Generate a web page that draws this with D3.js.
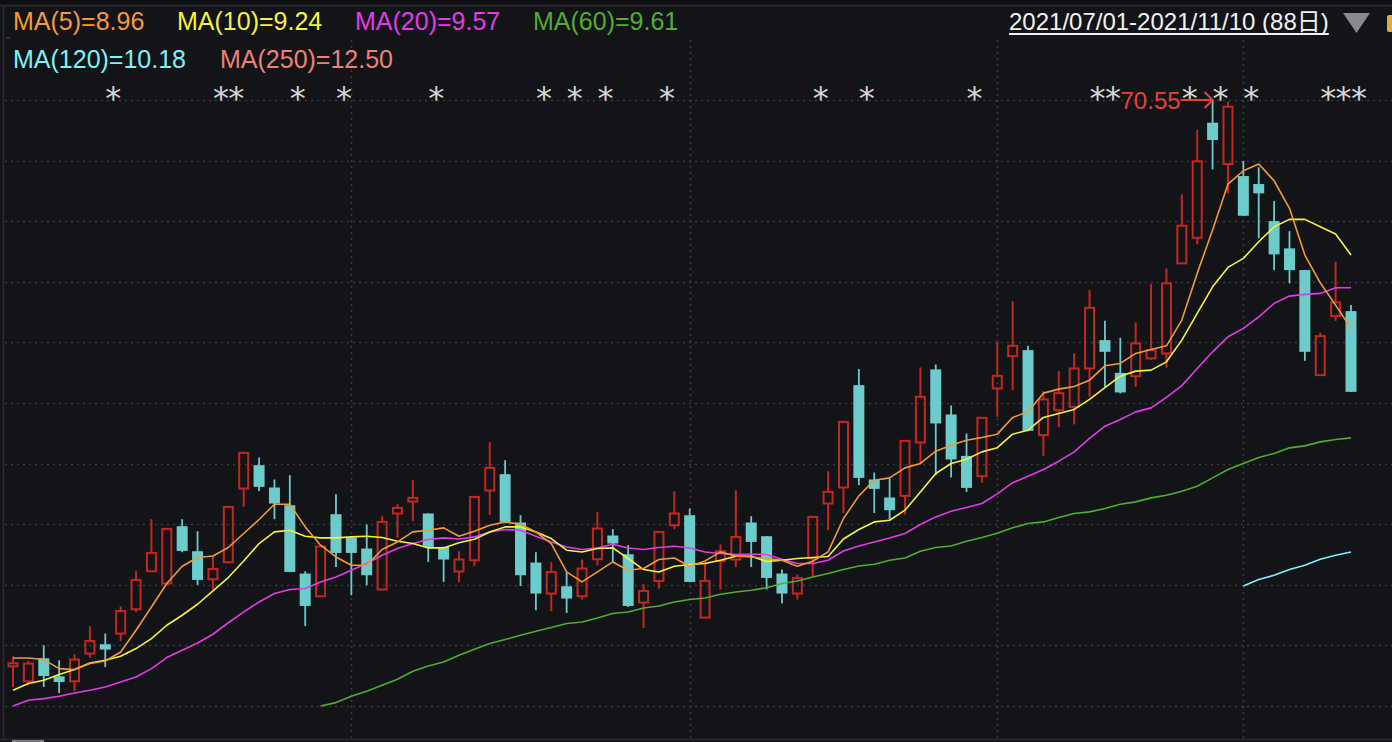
<!DOCTYPE html>
<html>
<head>
<meta charset="utf-8">
<script src="https://cdn.jsdelivr.net/npm/d3@7/dist/d3.min.js"></script>
<style>
  html, body { margin: 0; padding: 0; background: #131418; }
  svg { display: block; }
</style>
</head>
<body>
<div id="chart"></div>
<script>
// 日K数据 (2021/07/01 - 2021/11/10, 88个交易日)
const opens = [13.95,12.45,14.75,12.95,12.45,15.22,16.15,17.22,19.65,23.45,
  22.22,27.95,25.45,22.65,24.35,31.72,34.05,31.82,30.05,23.22,
  20.95,29.15,26.82,25.72,21.62,29.22,30.42,29.22,25.88,23.42,
  24.55,31.52,33.15,28.32,24.32,21.22,21.95,20.95,24.65,27.02,
  25.15,20.32,22.48,28.05,29.05,18.82,24.48,24.62,28.32,26.95,
  23.22,21.22,24.75,30.22,31.82,42.05,32.62,30.82,30.98,36.32,
  43.62,39.12,34.98,32.95,41.72,44.95,45.55,37.05,39.55,39.88,
  43.72,46.55,43.28,42.95,44.72,45.22,54.22,56.78,68.28,64.15,
  62.95,62.15,58.45,55.72,53.55,43.05,48.95,49.45];

const closes = [14.25,14.22,12.98,12.38,14.62,16.48,15.62,19.48,22.58,25.28,
  27.68,25.48,22.58,23.68,29.88,35.28,31.88,30.22,23.38,19.98,
  25.92,25.28,25.28,23.05,28.38,29.78,30.78,25.88,24.62,24.62,
  30.88,33.78,28.38,23.05,21.22,23.38,20.72,23.72,27.72,26.22,
  19.98,21.48,27.38,29.22,22.38,22.48,25.45,26.88,26.38,22.78,
  21.22,22.78,28.88,31.38,38.38,32.78,31.68,29.55,36.48,40.88,
  38.22,34.62,31.78,38.78,42.98,45.98,37.48,40.62,41.25,43.72,
  49.78,45.38,41.32,46.22,45.55,52.22,57.98,64.42,66.55,69.88,
  58.98,61.22,55.12,53.55,45.38,46.95,50.32,41.38];

const highs = [14.95,14.48,16.05,14.55,15.15,17.95,17.22,19.95,23.45,28.65,
  27.78,28.65,27.45,24.95,29.95,35.35,34.82,32.62,33.05,23.45,
  25.95,31.15,26.85,28.12,28.95,30.15,32.55,29.25,25.90,25.45,
  30.90,36.35,34.55,29.05,25.35,24.35,23.38,24.62,29.35,27.65,
  26.05,22.15,27.40,31.45,29.72,24.38,26.12,31.55,28.95,26.97,
  23.62,23.12,28.90,33.45,38.40,43.65,33.32,32.72,36.50,43.82,
  44.12,40.02,37.22,38.80,46.38,50.45,45.98,41.45,43.45,45.22,
  51.55,48.48,46.78,48.32,52.15,53.72,61.12,67.55,70.55,70.38,
  64.45,63.82,60.45,57.45,53.57,47.28,54.38,50.05];

const lows = [11.85,12.05,11.88,11.28,11.45,14.82,13.88,16.48,19.35,23.45,
  22.22,25.35,22.08,21.62,24.35,29.88,31.48,28.65,23.35,17.98,
  20.95,23.88,21.05,22.05,21.62,26.78,28.48,24.38,22.38,22.38,
  23.98,29.08,28.25,21.98,19.55,19.45,19.28,20.62,24.05,24.38,
  19.88,17.78,21.72,27.65,22.35,18.82,21.62,23.88,23.88,21.62,
  20.22,20.62,22.95,27.55,29.28,32.05,29.28,28.62,29.12,34.12,
  33.05,32.82,31.38,32.28,38.88,41.55,37.45,34.98,37.82,38.12,
  40.88,41.88,41.22,41.88,44.55,43.82,54.20,56.12,63.62,61.22,
  58.95,56.72,53.55,52.22,44.48,43.03,48.48,41.36];

// 均线
const ma5 = [14.78,14.78,14.62,13.72,13.62,14.22,14.48,15.38,17.55,19.88,
  22.22,23.95,24.82,24.98,25.82,27.22,28.62,30.15,30.15,27.88,
  26.05,24.88,24.05,24.05,25.62,26.38,27.38,27.55,27.78,26.95,
  27.45,28.05,28.38,28.15,27.38,26.22,23.38,22.38,23.38,24.38,
  23.55,23.72,24.62,24.78,23.95,24.48,25.38,24.98,24.88,24.72,
  24.55,23.95,24.45,25.38,28.72,30.98,32.55,32.78,33.78,34.22,
  35.45,36.05,36.55,36.82,37.15,38.82,39.38,41.25,41.65,41.92,
  42.55,43.98,44.22,45.22,45.62,45.98,48.55,53.22,57.55,62.15,
  63.48,64.15,62.48,59.72,55.05,52.28,50.05,47.72];

const ma10 = [11.55,12.22,12.55,13.12,13.62,14.28,14.55,14.95,15.72,16.72,
  18.05,19.05,20.15,21.48,22.82,24.48,26.22,27.38,27.55,26.95,
  26.78,26.78,26.88,26.95,26.82,26.45,26.22,25.78,25.78,26.30,
  26.65,27.38,27.88,27.88,27.38,26.72,25.55,25.38,25.72,25.78,
  24.72,23.62,23.38,23.95,24.12,24.22,24.55,24.95,24.95,24.42,
  24.55,24.72,24.82,24.92,26.67,27.62,28.38,28.55,29.55,31.38,
  33.22,34.22,34.65,35.38,35.80,37.15,37.55,38.82,39.22,39.62,
  40.62,41.80,42.95,43.45,43.55,44.38,46.55,49.22,51.88,53.82,
  54.72,56.38,57.88,58.62,58.62,57.88,57.15,55.05];

const ma20 = [9.98,10.55,10.72,10.95,11.28,11.55,11.88,12.38,12.88,13.72,
  14.82,15.55,16.28,17.15,18.30,19.38,20.38,21.22,21.62,21.72,
  22.38,22.88,23.55,24.22,25.05,25.72,26.22,26.62,26.78,26.67,
  26.88,27.38,27.62,27.55,26.95,26.38,25.88,25.62,25.78,26.15,
  25.78,25.62,25.82,25.95,25.78,25.38,25.22,25.12,25.15,25.13,
  24.65,24.22,24.22,24.55,25.47,25.98,26.38,26.78,27.22,28.12,
  28.88,29.45,29.82,30.22,31.18,32.30,32.95,33.62,34.45,35.38,
  36.72,37.95,38.62,39.38,39.78,40.82,42.00,43.72,45.38,46.88,
  47.72,48.88,50.22,50.95,51.12,51.22,51.78,51.78];

const ma60 = [null,null,null,null,null,null,null,null,null,null,
  null,null,null,null,null,null,null,null,null,null,
  9.98,10.32,10.95,11.45,12.05,12.65,13.45,13.98,14.38,15.05,
  15.65,16.22,16.62,17.05,17.45,17.82,18.22,18.38,18.78,19.22,
  19.38,19.78,19.98,20.38,20.62,20.78,21.15,21.38,21.55,21.80,
  22.22,22.48,22.88,23.22,23.62,23.98,24.15,24.55,24.78,25.45,
  25.82,25.98,26.45,26.82,27.25,27.80,28.22,28.38,28.82,29.22,
  29.38,29.72,30.15,30.38,30.78,31.05,31.45,31.95,32.78,33.62,
  34.22,34.82,35.22,35.78,35.98,36.38,36.62,36.78];

const ma120 = Array(80).fill(null).concat(
  [21.98,22.62,23.05,23.62,24.05,24.65,25.05,25.38]);

// 图例
const maNames = ["MA(5)", "MA(10)", "MA(20)", "MA(60)", "MA(120)", "MA(250)"];
const maValues = [8.96, 9.24, 9.57, 9.61, 10.18, 12.50];
const maColors = ["#f39a35", "#f7f13f", "#e33be8", "#4fae2c", "#7df3f8", "#ee8177"];

// 月份分隔 (8/2, 9/1, 10/8, 11/1 在序列中的位置)
const monthStarts = [22, 44, 64, 80];
// 信号标记 *
const starIdx = [6, 13, 14, 18, 21, 27, 34, 36, 38, 42, 52, 55, 62, 70, 71, 76, 78, 80, 85, 86, 87];

const rangeText = "2021/07/01-2021/11/10 (88日)";

const W = 1392, H = 742;
const UP = "#c2281e", DOWN = "#6ccbcb";
const FONT = "'Liberation Sans', Arial, 'Noto Sans CJK SC', sans-serif";

const svg = d3.select("#chart").append("svg")
    .attr("width", W)
    .attr("height", H)
    .style("background-color", "#131418");

const n = closes.length;
const x = d3.scaleLinear().domain([0, n - 1]).range([13, 1351]);

const allVals = lows.concat(ma5, ma10, ma20, ma60, ma120).filter(v => v != null);
const lo = d3.min(allVals), hi = d3.max(highs);
const y = d3.scaleLinear().domain([lo, hi]).range([706, 100]);

// 边框
svg.append("rect").attr("x", 0).attr("y", 0).attr("width", W).attr("height", 5).attr("fill", "#0e0f12");
svg.append("line").attr("x1", 0).attr("x2", W).attr("y1", 5.5).attr("y2", 5.5)
    .attr("stroke", "#2b2c31").attr("stroke-width", 1.5);
svg.append("line").attr("x1", 3.5).attr("x2", 3.5).attr("y1", 6).attr("y2", 739)
    .attr("stroke", "#2b2c31").attr("stroke-width", 1.5);
svg.append("line").attr("x1", 0).attr("x2", W).attr("y1", 739.5).attr("y2", 739.5)
    .attr("stroke", "#2b2c31").attr("stroke-width", 1.5);
svg.append("line").attr("x1", 6).attr("x2", 10).attr("y1", 38).attr("y2", 38)
    .attr("stroke", "#3a3b40").attr("stroke-width", 1.5);
svg.append("rect").attr("x", 12).attr("y", 740).attr("width", 32).attr("height", 2).attr("fill", "#7a7a7a");

// 网格
const gridVals = d3.range(11).map(k => lo + (hi - lo) * k / 10);
svg.append("g").selectAll("line")
    .data(gridVals)
    .enter()
    .append("line")
    .attr("x1", 5).attr("x2", W)
    .attr("y1", d => Math.round(y(d)) + 0.5)
    .attr("y2", d => Math.round(y(d)) + 0.5)
    .style("stroke", "#3a3b40")
    .style("stroke-width", "1.5px")
    .style("stroke-dasharray", "2,4");

svg.append("g").selectAll("line")
    .data(monthStarts)
    .enter()
    .append("line")
    .attr("x1", d => Math.round(x(d)) + 0.5)
    .attr("x2", d => Math.round(x(d)) + 0.5)
    .attr("y1", 40).attr("y2", 739)
    .style("stroke", "#3a3b40")
    .style("stroke-width", "1.5px")
    .style("stroke-dasharray", "2,4");

// K线
const candles = svg.append("g").selectAll("g")
    .data(d3.range(n))
    .enter()
    .append("g");

candles.each(function(i) {
  const g = d3.select(this);
  const cx = x(i);
  const o = opens[i], c = closes[i];
  if (c >= o) {
    const top = y(c), bot = y(o);
    g.append("line").attr("x1", cx).attr("x2", cx).attr("y1", y(highs[i])).attr("y2", top)
        .attr("stroke", UP).attr("stroke-width", 2);
    g.append("line").attr("x1", cx).attr("x2", cx).attr("y1", bot).attr("y2", y(lows[i]))
        .attr("stroke", UP).attr("stroke-width", 2);
    g.append("rect")
        .attr("x", cx - 4.5).attr("y", top)
        .attr("width", 9).attr("height", Math.max(1, bot - top))
        .attr("fill", "none").attr("stroke", UP).attr("stroke-width", 2);
  } else {
    const top = y(o), bot = y(c);
    g.append("line").attr("x1", cx).attr("x2", cx).attr("y1", y(highs[i])).attr("y2", y(lows[i]))
        .attr("stroke", DOWN).attr("stroke-width", 1.8);
    g.append("rect")
        .attr("x", cx - 5.5).attr("y", top)
        .attr("width", 11).attr("height", Math.max(1, bot - top))
        .attr("fill", DOWN);
  }
});

// 均线
const line = d3.line()
    .defined(d => d != null)
    .x((d, i) => x(i))
    .y(d => y(d));

[[ma120, 4], [ma60, 3], [ma20, 2], [ma10, 1], [ma5, 0]].forEach(([s, k]) => {
  svg.append("path")
      .datum(s)
      .attr("d", line)
      .attr("fill", "none")
      .attr("stroke", maColors[k])
      .attr("stroke-width", 1.6)
      .attr("stroke-linejoin", "round");
});

// 信号 *
svg.append("g").selectAll("text")
    .data(starIdx)
    .enter()
    .append("text")
    .attr("x", d => x(d) + 8)
    .attr("y", 109)
    .attr("text-anchor", "middle")
    .style("font-family", "'DejaVu Sans', sans-serif")
    .style("font-size", "32px")
    .style("fill", "#d6d6d6")
    .text("*");

// 最高价标注
const hiIdx = d3.maxIndex(highs);
const hx = x(hiIdx), hy = y(highs[hiIdx]);
svg.append("text")
    .attr("x", hx - 32).attr("y", hy + 9)
    .attr("text-anchor", "end")
    .style("font-family", FONT)
    .style("font-size", "24px")
    .style("fill", "#e5433a")
    .text(d3.format(".2f")(highs[hiIdx]));
svg.append("path")
    .attr("d", `M${hx - 32},${hy}H${hx}M${hx - 8},${hy - 8}L${hx},${hy}L${hx - 8},${hy + 8}`)
    .attr("fill", "none")
    .attr("stroke", "#e5433a")
    .attr("stroke-width", 2);

// 图例
const legendPos = [[13, 30], [177, 30], [355, 30], [533, 30], [13, 68], [220, 68]];
svg.append("g").selectAll("text")
    .data(maNames)
    .enter()
    .append("text")
    .attr("x", (d, i) => legendPos[i][0])
    .attr("y", (d, i) => legendPos[i][1])
    .style("font-family", FONT)
    .style("font-size", "25px")
    .style("fill", (d, i) => maColors[i])
    .text((d, i) => `${d}=${maValues[i].toFixed(2)}`);

// 区间
const rt = svg.append("text")
    .attr("x", 1009).attr("y", 30)
    .style("font-family", FONT)
    .style("font-size", "24px")
    .style("fill", "#f2f2f2")
    .text(rangeText);
const tw = rt.node().getComputedTextLength();
svg.append("line")
    .attr("x1", 1009).attr("x2", 1009 + tw)
    .attr("y1", 34).attr("y2", 34)
    .attr("stroke", "#f2f2f2").attr("stroke-width", 2);
svg.append("path")
    .attr("d", "M1343,13L1370,13L1356.5,33Z")
    .attr("fill", "#8a8a8a");
svg.append("rect")
    .attr("x", 1387).attr("y", 15).attr("width", 8).attr("height", 17).attr("rx", 2)
    .attr("fill", "#e2aa42");
</script>
</body>
</html>
